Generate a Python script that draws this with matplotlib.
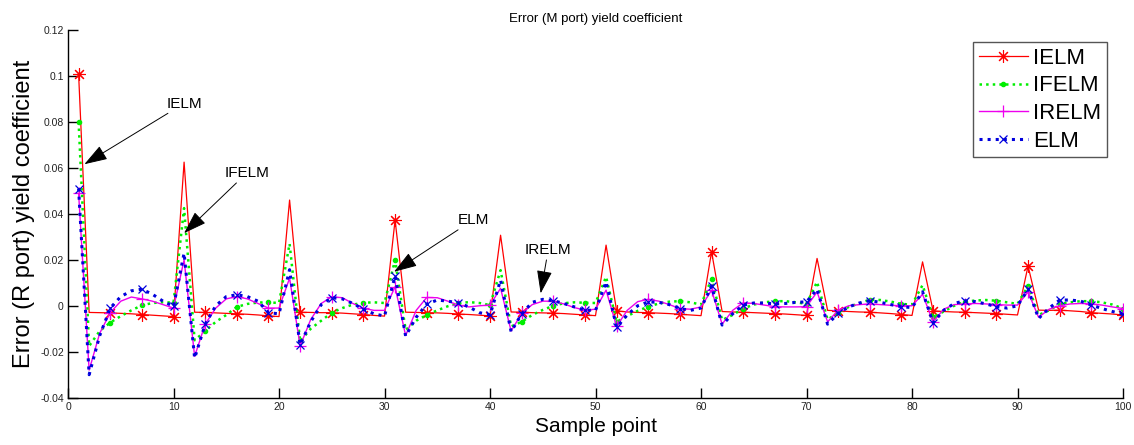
# -*- coding: utf-8 -*-
import matplotlib.pyplot as plt

# 样本点
x = list(range(1, 101))

# IELM
ielm = [
    0.1010, -0.0029, -0.0030, -0.0031, -0.0033, -0.0035, -0.0038, -0.0041, -0.0044, -0.0047,
    0.0625, -0.0028, -0.0029, -0.0031, -0.0033, -0.0035, -0.0037, -0.0040, -0.0044, -0.0047,
    0.0460, -0.0028, -0.0029, -0.0030, -0.0030, -0.0032, -0.0035, -0.0038, -0.0042, -0.0045,
    0.0373, -0.0028, -0.0029, -0.0030, -0.0031, -0.0033, -0.0036, -0.0038, -0.0041, -0.0044,
    0.0307, -0.0027, -0.0028, -0.0030, -0.0031, -0.0032, -0.0034, -0.0037, -0.0040, -0.0043,
    0.0264, -0.0022, -0.0027, -0.0029, -0.0030, -0.0032, -0.0034, -0.0037, -0.0040, -0.0043,
    0.0235, -0.0025, -0.0027, -0.0028, -0.0030, -0.0032, -0.0034, -0.0036, -0.0039, -0.0042,
    0.0206, -0.0020, -0.0022, -0.0025, -0.0027, -0.0028, -0.0031, -0.0034, -0.0038, -0.0042,
    0.0191, -0.0022, -0.0025, -0.0027, -0.0028, -0.0030, -0.0032, -0.0034, -0.0037, -0.0040,
    0.0173, -0.0019, -0.0020, -0.0019, -0.0022, -0.0025, -0.0030, -0.0033, -0.0036, -0.0040,
]

# IFELM
ifelm = [
    0.0800, -0.0175, -0.0110, -0.0073, -0.0045, -0.0020, 0.0002, 0.0012, 0.0015, 0.0014,
    0.0425, -0.0150, -0.0110, -0.0070, -0.0040, -0.0005, 0.0008, 0.0014, 0.0015, 0.0012,
    0.0270, -0.0155, -0.0100, -0.0065, -0.0030, -0.0010, 0.0005, 0.0013, 0.0015, 0.0012,
    0.0200, -0.0105, -0.0065, -0.0040, -0.0020, -0.0002, 0.0011, 0.0016, 0.0012, 0.0003,
    0.0155, -0.0090, -0.0070, -0.0040, -0.0018, 0.0000, 0.0011, 0.0015, 0.0013, 0.0012,
    0.0126, -0.0070, -0.0045, -0.0022, -0.0004, 0.0010, 0.0018, 0.0020, 0.0015, 0.0005,
    0.0116, -0.0062, -0.0040, -0.0012, 0.0005, 0.0015, 0.0020, 0.0020, 0.0015, 0.0008,
    0.0104, -0.0060, -0.0030, -0.0005, 0.0010, 0.0027, 0.0025, 0.0018, 0.0008, 0.0005,
    0.0090, -0.0050, -0.0025, 0.0000, 0.0017, 0.0023, 0.0025, 0.0022, 0.0015, 0.0008,
    0.0086, -0.0040, -0.0020, 0.0008, 0.0015, 0.0020, 0.0020, 0.0015, 0.0005, -0.0012,
]

# IRELM
irelm = [
    0.0490, -0.0280, -0.0120, -0.0030, 0.0020, 0.0038, 0.0030, 0.0020, 0.0005, -0.0010,
    0.0200, -0.0220, -0.0080, -0.0010, 0.0030, 0.0040, 0.0030, 0.0010, -0.0010, -0.0010,
    0.0120, -0.0175, -0.0060, 0.0010, 0.0039, 0.0035, 0.0010, -0.0011, -0.0020, -0.0020,
    0.0083, -0.0130, -0.0020, 0.0036, 0.0035, 0.0020, 0.0003, -0.0005, 0.0000, 0.0003,
    0.0076, -0.0110, -0.0033, 0.0005, 0.0020, 0.0020, 0.0008, -0.0008, -0.0019, -0.0015,
    0.0068, -0.0090, -0.0020, 0.0018, 0.0028, 0.0020, 0.0005, -0.0012, -0.0015, -0.0005,
    0.0068, -0.0080, -0.0020, 0.0013, 0.0010, 0.0003, -0.0004, -0.0005, -0.0005, -0.0004,
    0.0060, -0.0070, -0.0019, 0.0000, 0.0005, 0.0008, 0.0005, 0.0002, 0.0000, 0.0000,
    0.0050, -0.0070, -0.0015, 0.0005, 0.0008, 0.0010, 0.0008, 0.0005, 0.0003, 0.0003,
    0.0060, -0.0050, -0.0015, 0.0000, 0.0008, 0.0010, 0.0008, 0.0003, -0.0005, -0.0012,
]

# ELM
elm = [
    0.0510, -0.0300, -0.0130, -0.0010, 0.0040, 0.0065, 0.0072, 0.0050, 0.0020, -0.0003,
    0.0229, -0.0228, -0.0080, 0.0000, 0.0040, 0.0048, 0.0040, 0.0020, -0.0030, -0.0035,
    0.0157, -0.0170, -0.0070, 0.0005, 0.0035, 0.0030, 0.0010, -0.0015, -0.0035, -0.0045,
    0.0129, -0.0132, -0.0050, 0.0007, 0.0025, 0.0020, 0.0013, -0.0005, -0.0030, -0.0040,
    0.0112, -0.0113, -0.0035, 0.0015, 0.0028, 0.0022, 0.0010, -0.0005, -0.0019, -0.0020,
    0.0104, -0.0094, -0.0040, 0.0000, 0.0017, 0.0015, 0.0005, -0.0012, -0.0020, -0.0010,
    0.0086, -0.0084, -0.0035, 0.0003, 0.0012, 0.0012, 0.0008, 0.0010, 0.0015, 0.0017,
    0.0072, -0.0080, -0.0033, -0.0005, 0.0012, 0.0022, 0.0015, 0.0005, -0.0004, -0.0008,
    0.0061, -0.0074, -0.0020, 0.0010, 0.0022, 0.0018, 0.0008, -0.0004, -0.0010, 0.0000,
    0.0072, -0.0055, -0.0010, 0.0025, 0.0025, 0.0020, 0.0003, -0.0012, -0.0025, -0.0036,
]

yticks = [-0.04, -0.02, 0, 0.02, 0.04, 0.06, 0.08, 0.1, 0.12]
ytick_labels = ['-0.04', '-0.02', '0', '0.02', '0.04', '0.06', '0.08', '0.1', '0.12']
xticks = list(range(0, 101, 10))

plt.rcParams['font.family'] = ['Liberation Sans', 'DejaVu Sans']

fig = plt.figure(figsize=(11.34, 4.45), dpi=100)
ax = fig.add_axes([0.0600, 0.1063, 0.9303, 0.8263])

# MATLAB 的 '*' 是星号线条, 不是实心五角星
ax.plot(x, ielm, color='#ff0000', linestyle='-', linewidth=0.9,
        marker=(8, 2, 0), markersize=9, markevery=3, markeredgewidth=0.8, label='IELM')
ax.plot(x, ifelm, color='#00ee00', linestyle=':', linewidth=1.8,
        marker='.', markersize=6, markevery=3, label='IFELM')
ax.plot(x, irelm, color='#ee00ee', linestyle='-', linewidth=1.0,
        marker='+', markersize=9, markevery=3, markeredgewidth=0.9, label='IRELM')
ax.plot(x, elm, color='#0000dd', linestyle=':', linewidth=2.2,
        marker='x', markersize=6, markevery=3, markeredgewidth=0.9, label='ELM')

ax.set_xlim(0, 100)
ax.set_ylim(-0.04, 0.12)
ax.set_xticks(xticks)
ax.set_yticks(yticks)
ax.set_yticklabels(ytick_labels)

# MATLAB 风格坐标轴
ax.spines['top'].set_visible(False)
ax.spines['right'].set_visible(False)
for s in ['left', 'bottom']:
    ax.spines[s].set_linewidth(1.0)
ax.tick_params(axis='both', direction='in', length=7, width=1.0,
               labelsize=7.5, pad=3)
for lab in ax.get_xticklabels() + ax.get_yticklabels():
    lab.set_color('#222222')

ax.set_title('Error (M port) yield coefficient', fontsize=9.5, pad=6)
ax.set_xlabel('Sample point', fontsize=15, labelpad=4)
ax.set_ylabel('Error (R port) yield coefficient', fontsize=17, labelpad=4)

# 箭头标注
arrow = dict(arrowstyle='-|>,head_length=0.9,head_width=0.3', color='k',
             lw=0.7, mutation_scale=16, shrinkA=0, shrinkB=0)
ax.annotate('IELM', xy=(1.55, 0.0616), xytext=(9.3, 0.0880),
            fontsize=11, va='center', arrowprops=arrow)
ax.annotate('IFELM', xy=(11.0, 0.0316), xytext=(14.8, 0.0577),
            fontsize=11, va='center', arrowprops=arrow)
ax.annotate('ELM', xy=(30.9, 0.0148), xytext=(36.9, 0.0373),
            fontsize=11, va='center', arrowprops=arrow)
ax.annotate('IRELM', xy=(44.8, 0.0054), xytext=(43.3, 0.0242),
            fontsize=11, va='center', arrowprops=arrow)

leg = ax.legend(loc='upper right', bbox_to_anchor=(0.985, 0.967), fontsize=16,
                fancybox=False, edgecolor='#555555', framealpha=1,
                handlelength=2.2, handletextpad=0.25, labelspacing=0.3,
                borderpad=0.25, borderaxespad=0, markerscale=1)
leg.get_frame().set_linewidth(1.0)

plt.savefig('out.png', dpi=100)
